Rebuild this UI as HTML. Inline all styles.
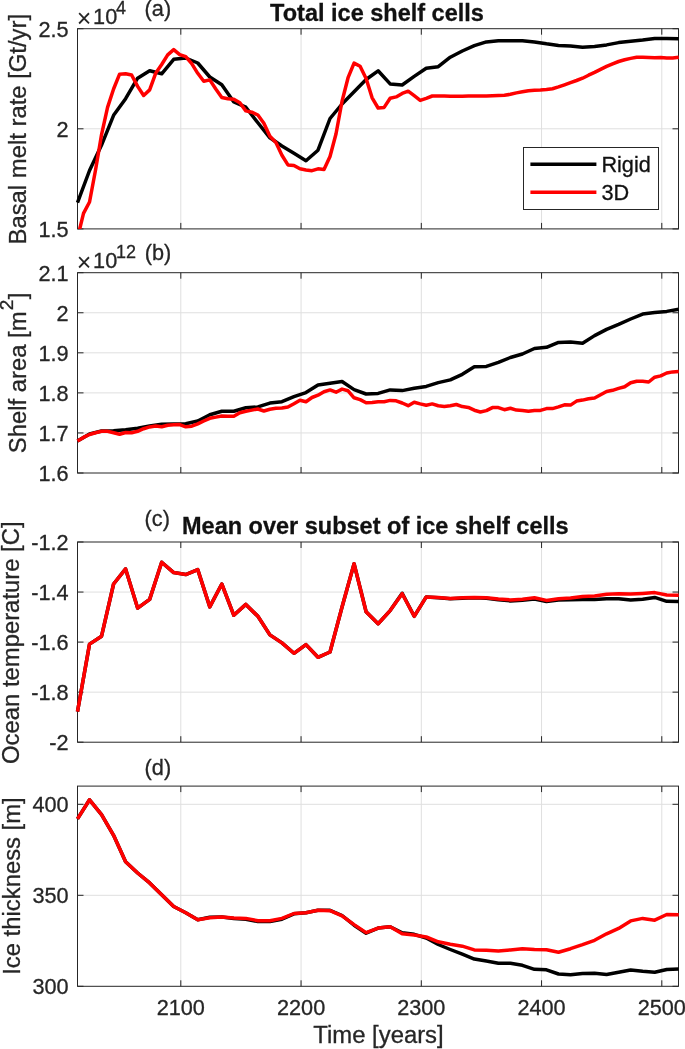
<!DOCTYPE html>
<html><head><meta charset="utf-8"><title>Figure</title>
<style>html,body{margin:0;padding:0;background:#fff}svg{display:block}text{font-family:"Liberation Sans",sans-serif;fill:#262626;stroke:#262626;stroke-width:0.3px}.s2{font-size:19.1px}.x{font-size:25px;stroke:none}.e{font-size:21.7px}.t{font-size:21.7px}.l{font-size:23.85px}.b{font-size:23.5px;font-weight:bold;fill:#111;stroke:#111}.s{font-size:18px}.lg{font-size:21.7px;fill:#111;stroke:#111}</style></head><body>
<svg width="685" height="1049" viewBox="0 0 685 1049">
<rect width="685" height="1049" fill="#fff"/>
<defs>
<clipPath id="cpa"><rect x="74.5" y="28.7" width="607.0" height="200.20000000000002"/></clipPath>
<clipPath id="cpb"><rect x="74.5" y="272.7" width="607.0" height="200.3"/></clipPath>
<clipPath id="cpc"><rect x="74.5" y="542.0" width="607.0" height="200.20000000000005"/></clipPath>
<clipPath id="cpd"><rect x="74.5" y="786.1" width="607.0" height="200.19999999999993"/></clipPath>
</defs>
<g id="panel-a">
<path d="M180.80 28.7V228.9M301.05 28.7V228.9M421.30 28.7V228.9M541.55 28.7V228.9M661.80 28.7V228.9M77.5 128.8H678.5" stroke="#dfdfdf" stroke-width="1" fill="none"/>
<path d="M180.80 228.9v-6M180.80 28.7v6M301.05 228.9v-6M301.05 28.7v6M421.30 228.9v-6M421.30 28.7v6M541.55 228.9v-6M541.55 28.7v6M661.80 228.9v-6M661.80 28.7v6M77.5 28.7h6M678.5 28.7h-6M77.5 128.8h6M678.5 128.8h-6M77.5 228.9h6M678.5 228.9h-6" stroke="#262626" stroke-width="1" fill="none"/>
<rect x="77.5" y="28.7" width="601.0" height="200.20000000000002" fill="none" stroke="#262626" stroke-width="1"/>
<g clip-path="url(#cpa)" fill="none" stroke-width="3.5" stroke-linejoin="round">
<polyline points="77.50,202.60 89.53,170.50 101.55,145.10 113.58,115.30 125.60,98.70 137.62,78.20 149.65,70.70 161.68,73.80 173.70,59.30 185.73,58.00 197.75,63.00 209.78,77.00 221.80,84.80 233.83,102.00 245.85,107.20 257.88,122.80 269.90,137.80 281.93,146.00 293.95,153.30 305.98,160.80 318.00,150.20 330.02,118.50 342.05,104.00 354.07,91.80 366.10,79.50 378.12,70.80 390.15,83.90 402.18,85.00 414.20,76.40 426.23,68.30 438.25,66.70 450.28,57.20 462.30,51.00 474.32,45.70 486.35,41.90 498.38,40.70 510.40,40.70 522.42,40.70 534.45,41.90 546.48,43.80 558.50,45.40 570.53,46.10 582.55,47.20 594.58,46.60 606.60,44.90 618.62,42.60 630.65,41.20 642.68,40.00 654.70,38.40 666.73,38.40 678.75,38.80" stroke="#000"/>
<polyline points="77.50,238.00 83.51,213.40 89.53,202.00 95.54,170.00 101.55,134.60 107.56,107.40 113.58,89.00 119.59,74.20 125.60,73.80 131.61,75.00 137.62,86.40 143.64,95.50 149.65,89.90 155.66,73.30 161.68,64.50 167.69,54.90 173.70,49.60 179.71,54.60 185.73,56.60 191.74,63.60 197.75,73.30 203.76,81.20 209.78,79.90 215.79,89.00 221.80,97.50 227.81,98.70 233.83,99.20 239.84,102.70 245.85,110.90 251.86,112.20 257.88,115.00 263.89,123.20 269.90,136.30 275.91,142.50 281.93,155.30 287.94,164.90 293.95,165.40 299.96,168.80 305.98,170.00 311.99,170.70 318.00,168.80 324.01,169.60 330.02,156.50 336.04,133.70 342.05,101.30 348.06,77.70 354.07,63.10 360.09,66.30 366.10,78.50 372.11,97.80 378.12,108.00 384.14,107.40 390.15,98.30 396.16,96.90 402.18,93.40 408.19,91.20 414.20,95.70 420.21,100.40 426.23,98.30 432.24,96.00 438.25,96.00 444.26,96.10 450.28,96.20 456.29,96.20 462.30,96.20 468.31,96.10 474.32,96.00 480.34,96.00 486.35,95.90 492.36,95.70 498.38,95.50 504.39,95.20 510.40,94.30 516.41,92.90 522.42,91.80 528.44,90.80 534.45,90.30 540.46,90.10 546.48,89.60 552.49,88.70 558.50,86.90 564.51,84.80 570.53,82.60 576.54,80.50 582.55,78.20 588.56,75.20 594.58,72.40 600.59,69.40 606.60,66.40 612.61,63.80 618.62,61.50 624.64,59.80 630.65,58.40 636.66,57.30 642.68,57.20 648.69,57.50 654.70,57.70 660.71,57.50 666.73,58.00 672.74,58.00 678.75,57.30" stroke="#f00"/>
</g>
<text class="t" transform="translate(68.6 36.5) scale(1 1.04)" text-anchor="end">2.5</text>
<text class="t" transform="translate(68.6 136.6) scale(1 1.04)" text-anchor="end">2</text>
<text class="t" transform="translate(68.6 236.7) scale(1 1.04)" text-anchor="end">1.5</text>
</g>
<g id="panel-b">
<path d="M180.80 272.7V473.0M301.05 272.7V473.0M421.30 272.7V473.0M541.55 272.7V473.0M661.80 272.7V473.0M77.5 312.76H678.5M77.5 352.82H678.5M77.5 392.88H678.5M77.5 432.94H678.5" stroke="#dfdfdf" stroke-width="1" fill="none"/>
<path d="M180.80 473.0v-6M180.80 272.7v6M301.05 473.0v-6M301.05 272.7v6M421.30 473.0v-6M421.30 272.7v6M541.55 473.0v-6M541.55 272.7v6M661.80 473.0v-6M661.80 272.7v6M77.5 272.7h6M678.5 272.7h-6M77.5 312.76h6M678.5 312.76h-6M77.5 352.82h6M678.5 352.82h-6M77.5 392.88h6M678.5 392.88h-6M77.5 432.94h6M678.5 432.94h-6M77.5 473.0h6M678.5 473.0h-6" stroke="#262626" stroke-width="1" fill="none"/>
<rect x="77.5" y="272.7" width="601.0" height="200.3" fill="none" stroke="#262626" stroke-width="1"/>
<g clip-path="url(#cpb)" fill="none" stroke-width="3.5" stroke-linejoin="round">
<polyline points="77.50,441.00 89.53,434.00 101.55,431.00 113.58,430.80 125.60,429.70 137.62,428.20 149.65,426.00 161.68,424.30 173.70,424.00 185.73,423.70 197.75,421.00 209.78,414.80 221.80,411.30 233.83,411.30 245.85,407.80 257.88,406.90 269.90,403.10 281.93,401.70 293.95,396.70 305.98,392.60 318.00,385.00 330.02,383.30 342.05,381.50 354.07,389.60 366.10,394.00 378.12,393.40 390.15,389.90 402.18,390.60 414.20,388.30 426.23,386.40 438.25,382.60 450.28,379.90 462.30,374.30 474.32,366.80 486.35,366.40 498.38,362.40 510.40,357.50 522.42,354.00 534.45,348.50 546.48,347.30 558.50,342.40 570.53,342.00 582.55,343.30 594.58,335.60 606.60,329.40 618.62,324.40 630.65,319.00 642.68,314.10 654.70,312.60 666.73,311.40 678.75,309.30" stroke="#000"/>
<polyline points="77.50,441.00 83.51,437.40 89.53,434.50 95.54,432.70 101.55,431.30 107.56,431.30 113.58,432.70 119.59,434.30 125.60,432.50 131.61,432.70 137.62,431.30 143.64,428.70 149.65,426.90 155.66,426.10 161.68,426.80 167.69,425.20 173.70,424.80 179.71,424.60 185.73,426.80 191.74,426.20 197.75,423.90 203.76,421.00 209.78,418.30 215.79,417.10 221.80,416.00 227.81,416.20 233.83,416.20 239.84,412.70 245.85,411.30 251.86,410.10 257.88,409.00 263.89,411.00 269.90,409.20 275.91,408.20 281.93,408.00 287.94,407.00 293.95,403.70 299.96,400.20 305.98,401.70 311.99,397.50 318.00,395.20 324.01,391.70 330.02,389.90 336.04,392.20 342.05,389.10 348.06,390.80 354.07,397.80 360.09,399.60 366.10,402.70 372.11,402.50 378.12,401.80 384.14,401.70 390.15,400.40 396.16,400.80 402.18,403.00 408.19,405.70 414.20,402.20 420.21,403.90 426.23,405.30 432.24,403.90 438.25,405.70 444.26,406.40 450.28,405.70 456.29,404.50 462.30,406.60 468.31,407.40 474.32,410.20 480.34,412.00 486.35,410.60 492.36,407.60 498.38,407.60 504.39,409.70 510.40,408.30 516.41,410.10 522.42,410.40 528.44,411.20 534.45,410.40 540.46,410.40 546.48,408.60 552.49,408.60 558.50,406.90 564.51,404.80 570.53,405.10 576.54,401.10 582.55,400.10 588.56,398.70 594.58,398.00 600.59,394.80 606.60,391.50 612.61,390.30 618.62,388.40 624.64,386.80 630.65,382.70 636.66,381.20 642.68,381.20 648.69,382.00 654.70,377.20 660.71,375.90 666.73,373.00 672.74,371.90 678.75,371.60" stroke="#f00"/>
</g>
<text class="t" transform="translate(68.6 280.5) scale(1 1.04)" text-anchor="end">2.1</text>
<text class="t" transform="translate(68.6 320.6) scale(1 1.04)" text-anchor="end">2</text>
<text class="t" transform="translate(68.6 360.6) scale(1 1.04)" text-anchor="end">1.9</text>
<text class="t" transform="translate(68.6 400.7) scale(1 1.04)" text-anchor="end">1.8</text>
<text class="t" transform="translate(68.6 440.7) scale(1 1.04)" text-anchor="end">1.7</text>
<text class="t" transform="translate(68.6 480.8) scale(1 1.04)" text-anchor="end">1.6</text>
</g>
<g id="panel-c">
<path d="M180.80 542.0V742.2M301.05 542.0V742.2M421.30 542.0V742.2M541.55 542.0V742.2M661.80 542.0V742.2M77.5 592.05H678.5M77.5 642.1H678.5M77.5 692.15H678.5" stroke="#dfdfdf" stroke-width="1" fill="none"/>
<path d="M180.80 742.2v-6M180.80 542.0v6M301.05 742.2v-6M301.05 542.0v6M421.30 742.2v-6M421.30 542.0v6M541.55 742.2v-6M541.55 542.0v6M661.80 742.2v-6M661.80 542.0v6M77.5 542.0h6M678.5 542.0h-6M77.5 592.05h6M678.5 592.05h-6M77.5 642.1h6M678.5 642.1h-6M77.5 692.15h6M678.5 692.15h-6M77.5 742.2h6M678.5 742.2h-6" stroke="#262626" stroke-width="1" fill="none"/>
<rect x="77.5" y="542.0" width="601.0" height="200.20000000000005" fill="none" stroke="#262626" stroke-width="1"/>
<g clip-path="url(#cpc)" fill="none" stroke-width="3.5" stroke-linejoin="round">
<polyline points="77.50,711.60 89.53,644.10 101.55,636.20 113.58,584.00 125.60,568.90 137.62,608.10 149.65,599.40 161.68,562.20 173.70,572.60 185.73,574.60 197.75,569.60 209.78,606.90 221.80,584.00 233.83,615.30 245.85,604.40 257.88,616.30 269.90,634.90 281.93,642.90 293.95,653.30 305.98,644.60 318.00,657.30 330.02,652.00 342.05,607.00 354.07,563.80 366.10,611.80 378.12,623.70 390.15,610.60 402.18,593.30 414.20,616.30 426.23,596.90 438.25,597.70 450.28,598.80 462.30,598.20 474.32,597.80 486.35,598.20 498.38,599.70 510.40,600.90 522.42,600.20 534.45,599.00 546.48,601.60 558.50,600.10 570.53,599.80 582.55,599.50 594.58,599.50 606.60,598.70 618.62,598.70 630.65,600.10 642.68,599.20 654.70,597.40 666.73,601.30 678.75,601.60" stroke="#000"/>
<polyline points="77.50,711.60 89.53,644.10 101.55,636.20 113.58,584.00 125.60,568.90 137.62,608.10 149.65,599.40 161.68,562.20 173.70,572.60 185.73,574.60 197.75,569.60 209.78,606.90 221.80,584.00 233.83,615.30 245.85,604.40 257.88,616.30 269.90,634.90 281.93,642.90 293.95,653.30 305.98,644.60 318.00,657.30 330.02,652.00 342.05,607.00 354.07,563.80 366.10,611.80 378.12,623.70 390.15,610.60 402.18,593.70 414.20,616.30 426.23,596.90 438.25,597.40 450.28,598.40 462.30,597.80 474.32,597.40 486.35,597.80 498.38,599.00 510.40,599.90 522.42,599.20 534.45,597.80 546.48,600.40 558.50,598.70 570.53,597.90 582.55,596.60 594.58,596.00 606.60,594.30 618.62,593.80 630.65,594.10 642.68,593.40 654.70,592.60 666.73,595.00 678.75,595.20" stroke="#f00"/>
</g>
<text class="t" transform="translate(68.6 549.8) scale(1 1.04)" text-anchor="end">-1.2</text>
<text class="t" transform="translate(68.6 599.8) scale(1 1.04)" text-anchor="end">-1.4</text>
<text class="t" transform="translate(68.6 649.9) scale(1 1.04)" text-anchor="end">-1.6</text>
<text class="t" transform="translate(68.6 699.9) scale(1 1.04)" text-anchor="end">-1.8</text>
<text class="t" transform="translate(68.6 750.0) scale(1 1.04)" text-anchor="end">-2</text>
</g>
<g id="panel-d">
<path d="M180.80 786.1V986.3M301.05 786.1V986.3M421.30 786.1V986.3M541.55 786.1V986.3M661.80 786.1V986.3M77.5 804.3H678.5M77.5 895.3H678.5" stroke="#dfdfdf" stroke-width="1" fill="none"/>
<path d="M180.80 986.3v-6M180.80 786.1v6M301.05 986.3v-6M301.05 786.1v6M421.30 986.3v-6M421.30 786.1v6M541.55 986.3v-6M541.55 786.1v6M661.80 986.3v-6M661.80 786.1v6M77.5 804.3h6M678.5 804.3h-6M77.5 895.3h6M678.5 895.3h-6M77.5 986.3h6M678.5 986.3h-6" stroke="#262626" stroke-width="1" fill="none"/>
<rect x="77.5" y="786.1" width="601.0" height="200.19999999999993" fill="none" stroke="#262626" stroke-width="1"/>
<g clip-path="url(#cpd)" fill="none" stroke-width="3.5" stroke-linejoin="round">
<polyline points="77.50,818.90 89.53,799.80 101.55,814.70 113.58,835.30 125.60,861.80 137.62,873.00 149.65,882.90 161.68,894.80 173.70,906.50 185.73,912.70 197.75,919.70 209.78,917.20 221.80,917.00 233.83,918.60 245.85,919.20 257.88,921.60 269.90,921.60 281.93,919.20 293.95,913.80 305.98,912.70 318.00,910.20 330.02,910.30 342.05,915.50 354.07,925.20 366.10,933.20 378.12,928.10 390.15,926.70 402.18,932.80 414.20,934.30 426.23,938.00 438.25,944.50 450.28,949.50 462.30,954.20 474.32,959.10 486.35,961.10 498.38,963.30 510.40,963.30 522.42,965.30 534.45,969.30 546.48,969.80 558.50,974.00 570.53,974.80 582.55,973.50 594.58,973.30 606.60,974.50 618.62,972.30 630.65,970.00 642.68,971.30 654.70,972.30 666.73,969.50 678.75,969.10" stroke="#000"/>
<polyline points="77.50,818.90 89.53,799.80 101.55,814.70 113.58,835.30 125.60,861.80 137.62,873.00 149.65,882.90 161.68,894.80 173.70,906.50 185.73,912.70 197.75,919.70 209.78,917.70 221.80,916.90 233.83,918.00 245.85,918.40 257.88,920.70 269.90,920.70 281.93,918.40 293.95,913.50 305.98,912.70 318.00,910.20 330.02,910.70 342.05,915.90 354.07,924.60 366.10,932.60 378.12,928.10 390.15,926.70 402.18,933.80 414.20,935.10 426.23,937.00 438.25,941.80 450.28,944.20 462.30,946.20 474.32,949.90 486.35,950.20 498.38,950.90 510.40,949.90 522.42,948.70 534.45,949.50 546.48,949.80 558.50,952.20 570.53,948.70 582.55,944.70 594.58,940.30 606.60,933.80 618.62,928.40 630.65,920.90 642.68,918.40 654.70,920.20 666.73,914.50 678.75,914.70" stroke="#f00"/>
</g>
<text class="t" transform="translate(68.6 812.1) scale(1 1.04)" text-anchor="end">400</text>
<text class="t" transform="translate(68.6 903.1) scale(1 1.04)" text-anchor="end">350</text>
<text class="t" transform="translate(68.6 994.1) scale(1 1.04)" text-anchor="end">300</text>
</g>
<text class="t" transform="translate(180.8 1015.4) scale(1 1.04)" text-anchor="middle">2100</text>
<text class="t" transform="translate(301.1 1015.4) scale(1 1.04)" text-anchor="middle">2200</text>
<text class="t" transform="translate(421.3 1015.4) scale(1 1.04)" text-anchor="middle">2300</text>
<text class="t" transform="translate(541.5 1015.4) scale(1 1.04)" text-anchor="middle">2400</text>
<text class="t" transform="translate(661.8 1015.4) scale(1 1.04)" text-anchor="middle">2500</text>
<text class="l" x="378.5" y="1042.6" text-anchor="middle">Time [years]</text>
<text class="l" transform="translate(25.5 129.2) rotate(-90)" text-anchor="middle">Basal melt rate [Gt/yr]</text>
<text class="l" transform="translate(25.5 372.9) rotate(-90)" text-anchor="middle">Shelf area [m<tspan class="s2" dy="-12.4" dx="1.2">2</tspan><tspan dy="12.4" dx="0.5">]</tspan></text>
<text class="l" transform="translate(18.5 642.7) rotate(-90)" text-anchor="middle">Ocean temperature [C]</text>
<text class="l" transform="translate(19.7 886.05) rotate(-90)" text-anchor="middle">Ice thickness [m]</text>
<text class="x" x="76.75" y="27.2">×</text><text class="e" x="93.1" y="23.8">10</text><text class="s" x="115.9" y="13.5">4</text>
<text class="x" x="76.75" y="271.2">×</text><text class="e" x="93.1" y="267.8">10</text><text class="s" x="116.1" y="257.5">12</text>
<text class="t" x="144.6" y="16.3">(a)</text>
<text class="t" x="144.8" y="259.9">(b)</text>
<text class="t" x="144.6" y="526.3">(c)</text>
<text class="t" x="144.6" y="774.8">(d)</text>
<text class="b" x="377" y="21" text-anchor="middle">Total ice shelf cells</text>
<text class="b" x="375.3" y="534.4" text-anchor="middle">Mean over subset of ice shelf cells</text>
<g id="legend"><rect x="523.5" y="147.5" width="135" height="62" fill="#fff" stroke="#262626" stroke-width="1"/>
<path d="M530.4 164.2H596.4" stroke="#000" stroke-width="3.5"/><path d="M530.4 192.3H596.4" stroke="#f00" stroke-width="3.5"/>
<text class="lg" x="601.4" y="172.0">Rigid</text><text class="lg" x="601.4" y="200.2">3D</text></g>
</svg></body></html>
